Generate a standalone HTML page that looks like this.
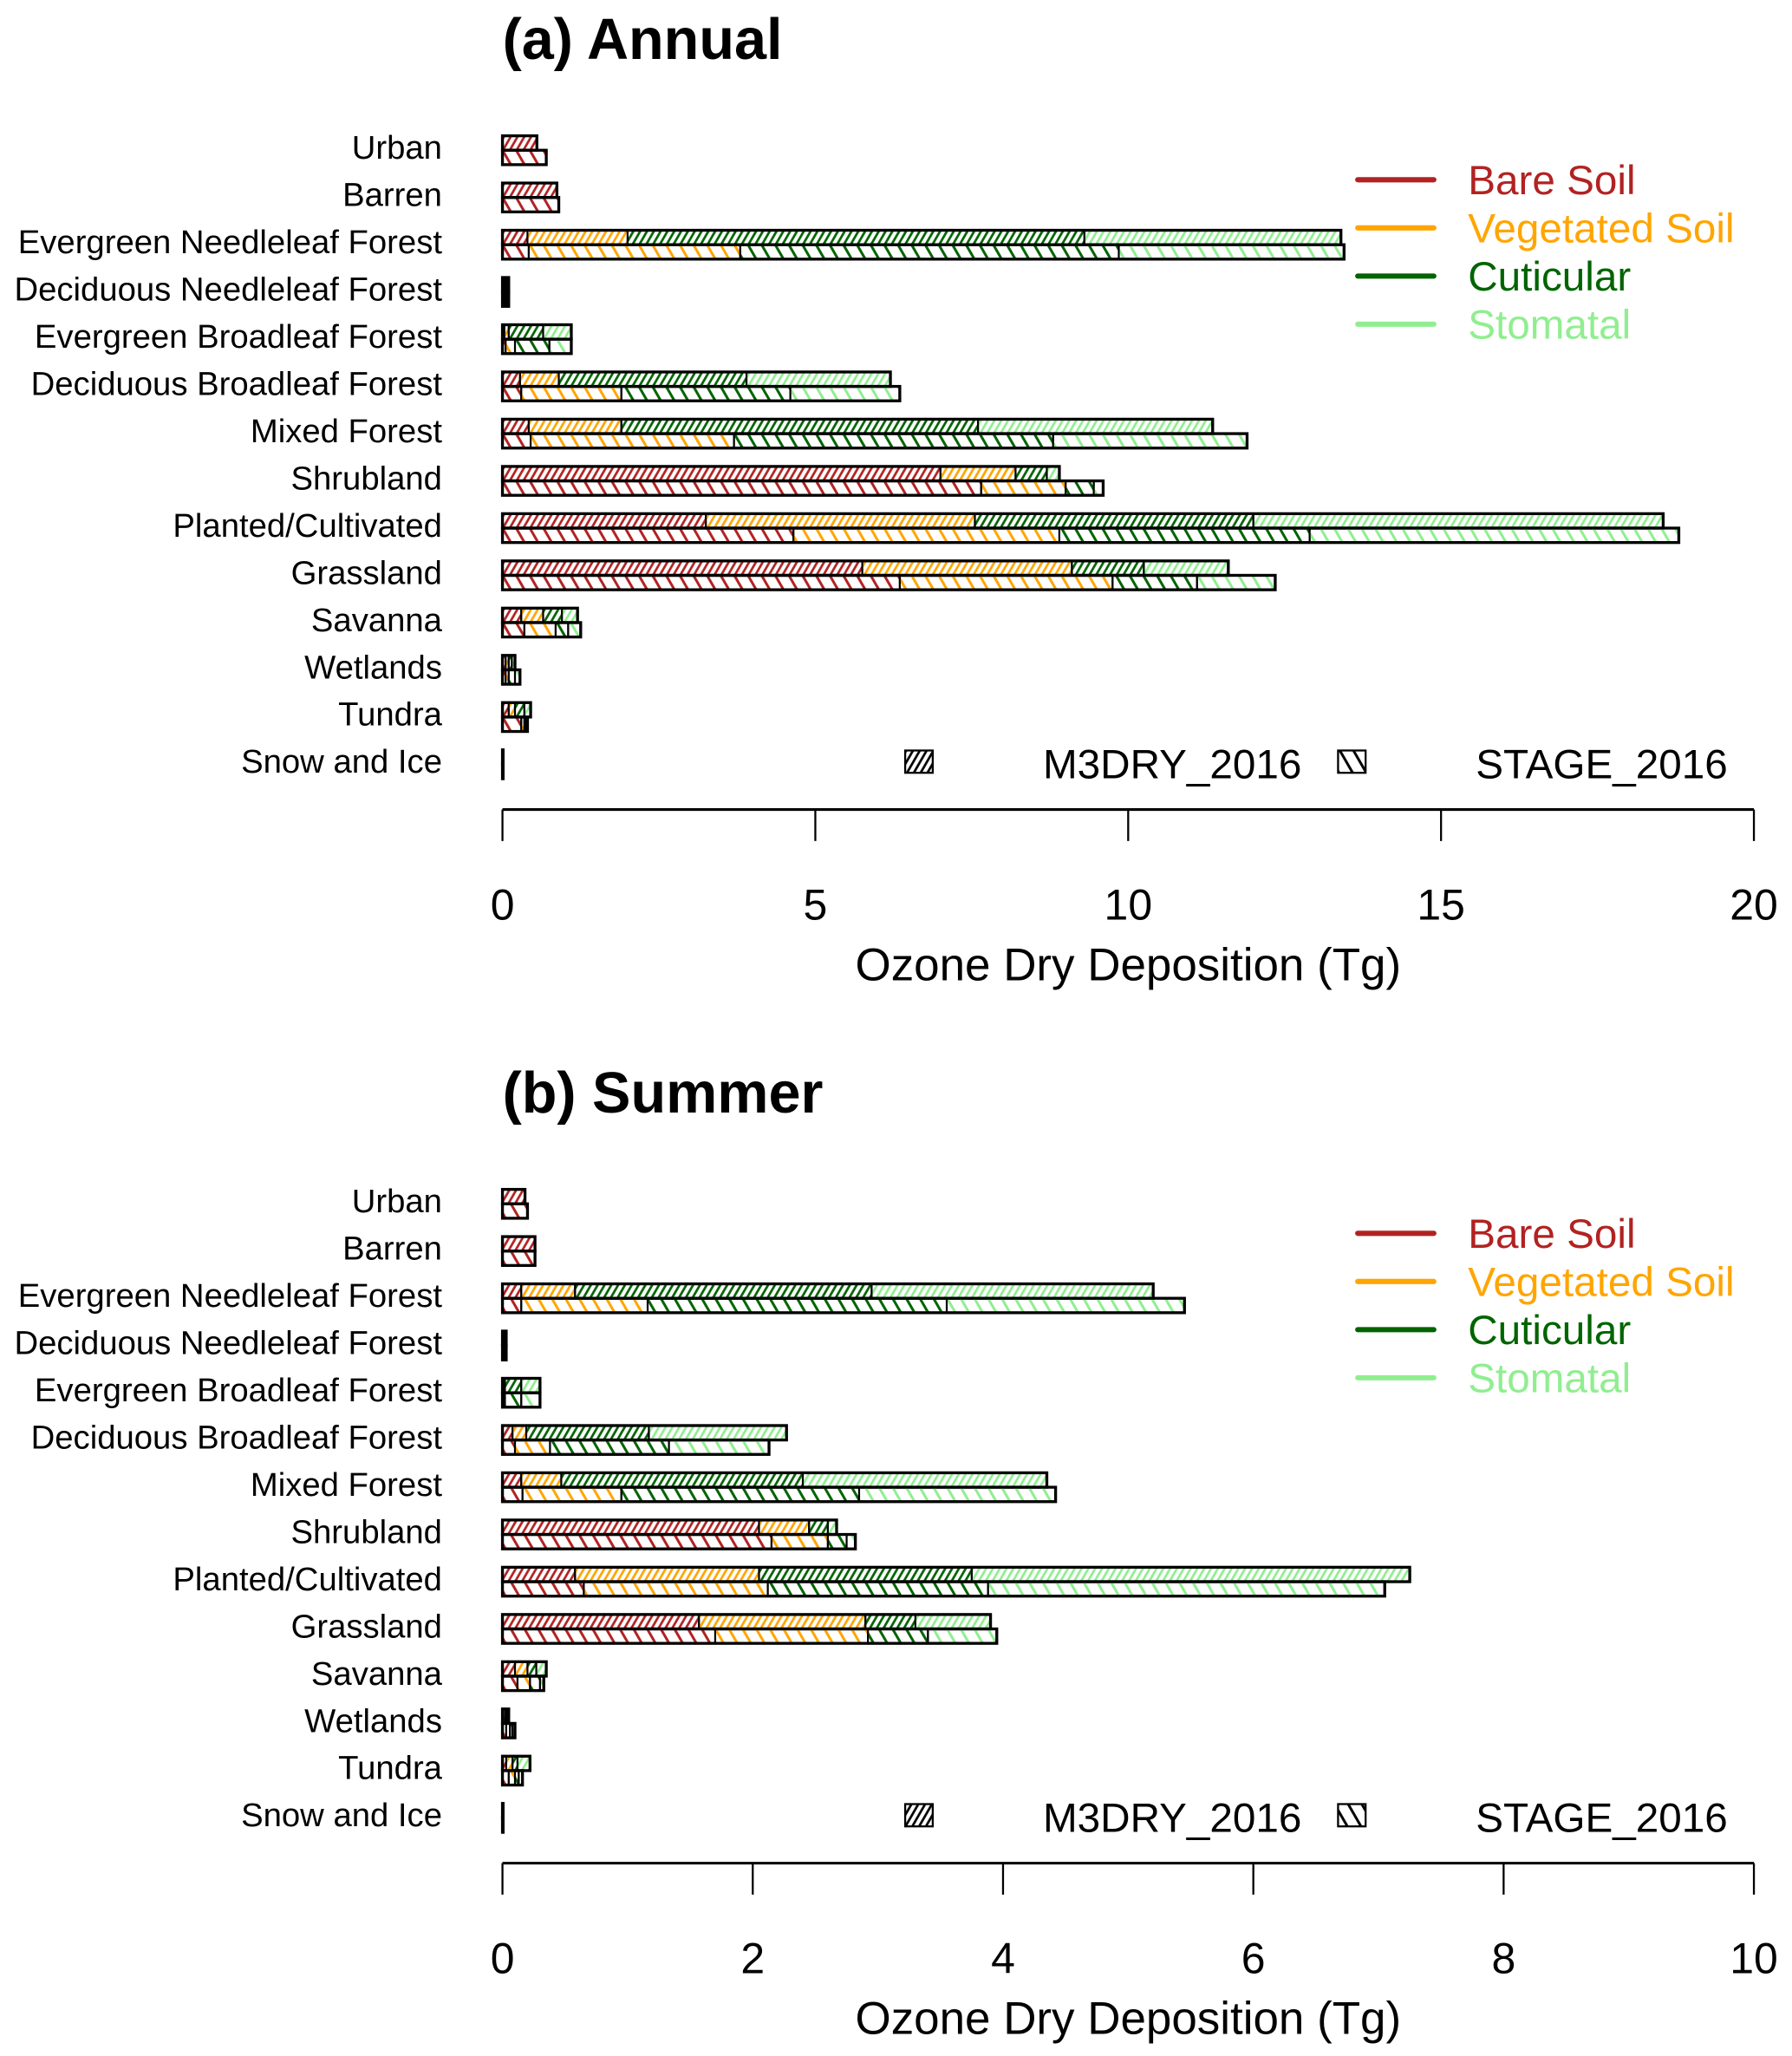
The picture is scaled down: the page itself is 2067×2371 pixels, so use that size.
<!DOCTYPE html>
<html><head><meta charset="utf-8"><style>
html,body{margin:0;padding:0;background:#fff}
svg{display:block}
text{font-family:"Liberation Sans",Arial,sans-serif}
</style></head><body>
<svg id="chart" xmlns="http://www.w3.org/2000/svg" width="2067" height="2371" viewBox="0 0 1366 1567">
<defs>
<pattern id="p-m3-0" patternUnits="userSpaceOnUse" width="4.5" height="5" patternTransform="rotate(30)"><line x1="2.25" y1="0" x2="2.25" y2="5" stroke="#b22222" stroke-width="1.8"/></pattern>
<pattern id="p-m3-1" patternUnits="userSpaceOnUse" width="4.5" height="5" patternTransform="rotate(30)"><line x1="2.25" y1="0" x2="2.25" y2="5" stroke="#ffa500" stroke-width="1.8"/></pattern>
<pattern id="p-m3-2" patternUnits="userSpaceOnUse" width="4.5" height="5" patternTransform="rotate(30)"><line x1="2.25" y1="0" x2="2.25" y2="5" stroke="#006400" stroke-width="1.8"/></pattern>
<pattern id="p-m3-3" patternUnits="userSpaceOnUse" width="4.5" height="5" patternTransform="rotate(30)"><line x1="2.25" y1="0" x2="2.25" y2="5" stroke="#90ee90" stroke-width="1.8"/></pattern>
<pattern id="p-st-0" patternUnits="userSpaceOnUse" width="9" height="10" patternTransform="rotate(-30)"><line x1="4.5" y1="0" x2="4.5" y2="10" stroke="#b22222" stroke-width="2"/></pattern>
<pattern id="p-st-1" patternUnits="userSpaceOnUse" width="9" height="10" patternTransform="rotate(-30)"><line x1="4.5" y1="0" x2="4.5" y2="10" stroke="#ffa500" stroke-width="2"/></pattern>
<pattern id="p-st-2" patternUnits="userSpaceOnUse" width="9" height="10" patternTransform="rotate(-30)"><line x1="4.5" y1="0" x2="4.5" y2="10" stroke="#006400" stroke-width="2"/></pattern>
<pattern id="p-st-3" patternUnits="userSpaceOnUse" width="9" height="10" patternTransform="rotate(-30)"><line x1="4.5" y1="0" x2="4.5" y2="10" stroke="#90ee90" stroke-width="2"/></pattern>
<pattern id="p-m3-k" patternUnits="userSpaceOnUse" width="4.5" height="5" patternTransform="rotate(30)"><line x1="2.25" y1="0" x2="2.25" y2="5" stroke="#000" stroke-width="1.8"/></pattern>
<pattern id="p-st-k" patternUnits="userSpaceOnUse" width="9" height="10" patternTransform="rotate(-30)"><line x1="4.5" y1="0" x2="4.5" y2="10" stroke="#000" stroke-width="2"/></pattern>
</defs>
</svg>
<script>
const categories = ["Urban","Barren","Evergreen Needleleaf Forest","Deciduous Needleleaf Forest","Evergreen Broadleaf Forest","Deciduous Broadleaf Forest","Mixed Forest","Shrubland","Planted/Cultivated","Grassland","Savanna","Wetlands","Tundra","Snow and Ice"];
const components = ["Bare Soil","Vegetated Soil","Cuticular","Stomatal"];
const compColors = ["#b22222","#ffa500","#006400","#90ee90"];
const ticksA = [0,5,10,15,20];
const ticksB = [0,2,4,6,8,10];

const a_m3_bare = [0.55,0.87,0.4,0.02,0.03,0.28,0.42,7.0,3.25,5.75,0.3,0.05,0.1,0.01];
const a_m3_veg  = [0,0,1.6,0.02,0.07,0.62,1.48,1.2,4.3,3.35,0.35,0.05,0.1,0];
const a_m3_cut  = [0,0,7.3,0.03,0.55,3.0,5.7,0.5,4.45,1.15,0.3,0.05,0.15,0];
const a_m3_sto  = [0,0,4.1,0.03,0.45,2.3,3.75,0.2,6.55,1.35,0.25,0.05,0.1,0];
const a_st_bare = [0.7,0.9,0.42,0.02,0.05,0.3,0.45,7.65,4.65,6.35,0.35,0.05,0.3,0.01];
const a_st_veg  = [0,0,3.38,0.02,0.15,1.6,3.25,1.35,4.25,3.4,0.5,0.05,0.05,0];
const a_st_cut  = [0,0,6.05,0.03,0.55,2.7,5.1,0.45,4.0,1.35,0.2,0.1,0.03,0];
const a_st_sto  = [0,0,3.6,0.03,0.35,1.75,3.1,0.15,5.9,1.25,0.2,0.08,0.02,0];

const b_m3_bare = [0.18,0.26,0.15,0.01,0.01,0.08,0.15,2.05,0.58,1.57,0.1,0.02,0.03,0.005];
const b_m3_veg  = [0,0,0.43,0.01,0.01,0.11,0.32,0.4,1.47,1.33,0.1,0.01,0.05,0];
const b_m3_cut  = [0,0,2.37,0.005,0.13,0.98,1.93,0.15,1.7,0.4,0.07,0.01,0.04,0];
const b_m3_sto  = [0,0,2.25,0.005,0.15,1.1,1.95,0.07,3.5,0.6,0.08,0.01,0.1,0];
const b_st_bare = [0.2,0.26,0.15,0.01,0.01,0.1,0.16,2.15,0.65,1.7,0.12,0.03,0.05,0.005];
const b_st_veg  = [0,0,1.01,0.01,0.01,0.28,0.79,0.45,1.47,1.22,0.1,0.03,0.05,0];
const b_st_cut  = [0,0,2.39,0.005,0.13,0.95,1.9,0.15,1.76,0.48,0.08,0.02,0.03,0];
const b_st_sto  = [0,0,1.9,0.005,0.15,0.8,1.57,0.07,3.17,0.55,0.03,0.02,0.03,0];

const svg = document.getElementById('chart');
const NS = 'http://www.w3.org/2000/svg';
function mk(tag, attrs, parent){
  const e = document.createElementNS(NS, tag);
  for (const k in attrs) e.setAttribute(k, attrs[k]);
  (parent||svg).appendChild(e);
  return e;
}

function drawPanel(title, oy, xmax, ticks, m3, st, key){
  const g = mk('g', {});
  
  
  const x0 = 383, x1 = 1337;
  const xs = v => x0 + v / xmax * (x1 - x0);
  const rowY = i => oy + 113 + i * 36;

  const t = mk('text', {x: 383, y: oy + 45, 'font-size': 44, 'font-weight': 'bold'}, g);
  t.textContent = title;
  
  

  categories.forEach((c, i) => {
    const lt = mk('text', {x: 337, y: rowY(i) + 8, 'font-size': 25.3, 'text-anchor': 'end'}, g);
    lt.textContent = c;
    
    

    [[m3, 'm3', -11], [st, 'st', 0]].forEach(([ser, mod, dy]) => {
      let cum = 0;
      const y = rowY(i) + 1.5 + dy;
      for (let k = 0; k < 4; k++) {
        const v = ser[k][i];
        if (v <= 0) continue;
        const r = mk('rect', {x: xs(cum), y: y, width: Math.max(xs(cum + v) - xs(cum), 0.5), height: 11, fill: 'url(#p-' + mod + '-' + k + ')', stroke: '#000', 'stroke-width': 1.4}, g);
        
        
        cum += v;
      }
      const o = mk('rect', {x: xs(0), y: y, width: Math.max(xs(cum) - xs(0), 0.5), height: 11, fill: 'none', stroke: '#000', 'stroke-width': 2.2}, g);
      
      
    });
  });

  const ax = mk('line', {x1: x0, y1: oy + 617, x2: x1, y2: oy + 617, stroke: '#000', 'stroke-width': 2}, g);
  
  
  ticks.forEach(tv => {
    const tk = mk('line', {x1: xs(tv), y1: oy + 617, x2: xs(tv), y2: oy + 641, stroke: '#000', 'stroke-width': 1.5}, g);
    
    
    const tl = mk('text', {x: xs(tv), y: oy + 701, 'font-size': 33, 'text-anchor': 'middle'}, g);
    tl.textContent = tv;
    
    
  });
  const at = mk('text', {x: 860, y: oy + 747, 'font-size': 35, 'text-anchor': 'middle'}, g);
  at.textContent = 'Ozone Dry Deposition (Tg)';
  
  

  components.forEach((c, k) => {
    const ly = oy + 137 + k * 36.7;
    const ll = mk('line', {x1: 1035, y1: ly, x2: 1093, y2: ly, stroke: compColors[k], 'stroke-width': 4, 'stroke-linecap': 'round'}, g);
    
    
    const lt = mk('text', {x: 1119, y: ly + 11, 'font-size': 31.5, fill: compColors[k]}, g);
    lt.textContent = c;
    
    
  });
  [['m3', 690, 795, 'M3DRY_2016'], ['st', 1020, 1125, 'STAGE_2016']].forEach(([mod, sx, tx, lab]) => {
    const s = mk('rect', {x: sx, y: oy + 572, width: 21, height: 17, fill: 'url(#p-' + mod + '-k)', stroke: '#000', 'stroke-width': 1.5}, g);
    
    
    const tt = mk('text', {x: tx, y: oy + 593, 'font-size': 31.5}, g);
    tt.textContent = lab;
    
    
  });
}

drawPanel('(a) Annual', 0, 20, ticksA, [a_m3_bare, a_m3_veg, a_m3_cut, a_m3_sto], [a_st_bare, a_st_veg, a_st_cut, a_st_sto], 'annual');
drawPanel('(b) Summer', 803, 10, ticksB, [b_m3_bare, b_m3_veg, b_m3_cut, b_m3_sto], [b_st_bare, b_st_veg, b_st_cut, b_st_sto], 'summer');
</script>
</body></html>
